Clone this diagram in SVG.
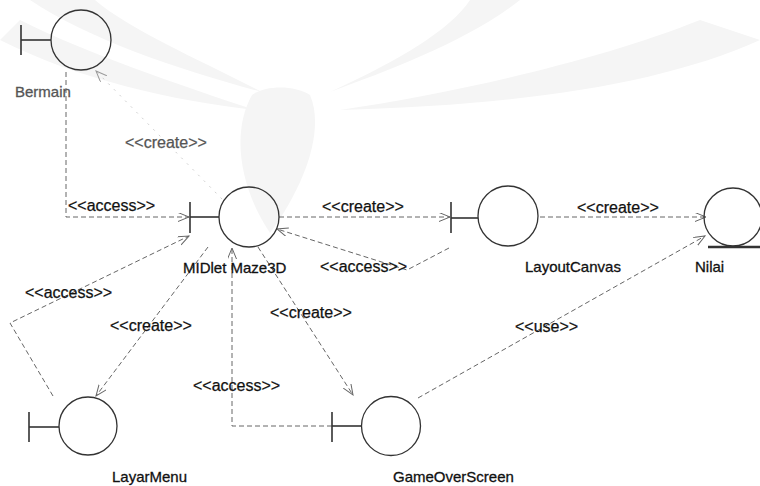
<svg xmlns="http://www.w3.org/2000/svg" width="760" height="486" viewBox="0 0 760 486">
  <style>
    .obj { fill: none; stroke: #333; stroke-width: 1.3; }
    .bar { fill: none; stroke: #333; stroke-width: 1.6; }
    .ent { fill: none; stroke: #333; stroke-width: 2.6; }
    .dep { fill: none; stroke: #666; stroke-width: 1; stroke-dasharray: 5 3; }
    .faint { stroke: #cfcfcf; stroke-dasharray: 2 6; }
    .name { font-family: "Liberation Sans", Arial, sans-serif; font-size: 15px; fill: #111; stroke: #111; stroke-width: 0.3; }
    .st { font-family: "Liberation Sans", Arial, sans-serif; font-size: 16px; fill: #111; stroke: #111; stroke-width: 0.25; }
    .grey { fill: #555; stroke: #555; }
    .wm { fill: #f5f5f5; stroke: none; }
  </style>
  <defs>
    <marker id="open" markerUnits="userSpaceOnUse" markerWidth="12" markerHeight="10" refX="11" refY="4.5" orient="auto">
      <path d="M0,0 L11,4.5 L0,9" fill="none" stroke="#666" stroke-width="1"/>
    </marker>
    <marker id="openFaint" markerUnits="userSpaceOnUse" markerWidth="12" markerHeight="10" refX="11" refY="4.5" orient="auto">
      <path d="M0,0 L11,4.5 L0,9" fill="none" stroke="#999" stroke-width="1"/>
    </marker>
  </defs>

  <rect width="760" height="486" fill="#ffffff"/>

  <!-- background emblem -->
  <g id="emblem">
    <path class="wm" d="M30,0 C90,40 180,70 262,92 C200,60 130,30 95,0 Z"/>
    <path class="wm" d="M0,40 C80,80 170,100 255,110 C180,85 90,55 20,20 Z"/>
    <path class="wm" d="M520,0 C470,40 390,70 330,92 C400,60 450,30 470,0 Z"/>
    <path class="wm" d="M760,40 C660,85 520,105 340,110 C460,92 600,60 700,20 Z"/>
    <path class="wm" d="M252,95 C232,130 238,185 270,233 C305,185 325,130 310,95 C295,85 265,85 252,95 Z"/>
  </g>

  <!-- connectors -->
  <g id="connectors">
    <polyline class="dep" points="66,72 66,217 189,217" marker-end="url(#open)"/>
    <line class="dep faint" x1="222" y1="199" x2="96" y2="71" marker-end="url(#openFaint)"/>
    <line class="dep" x1="279" y1="217" x2="450" y2="217" marker-end="url(#open)"/>
    <polyline class="dep" points="449,248 407,270 277,229" marker-end="url(#open)"/>
    <line class="dep" x1="540" y1="217" x2="706" y2="217" marker-end="url(#open)"/>
    <line class="dep" x1="418" y1="398" x2="705" y2="236" marker-end="url(#open)"/>
    <polyline class="dep" points="53,396 10,323 189,236" marker-end="url(#open)"/>
    <line class="dep" x1="208" y1="247" x2="96" y2="396" marker-end="url(#open)"/>
    <line class="dep" x1="258" y1="247" x2="353" y2="395" marker-end="url(#open)"/>
    <polyline class="dep" points="332,426 232,426 232,248" marker-end="url(#open)"/>

    <text class="st grey" x="125" y="148">&lt;&lt;create&gt;&gt;</text>
    <text class="st" x="68" y="211">&lt;&lt;access&gt;&gt;</text>
    <text class="st" x="322" y="212">&lt;&lt;create&gt;&gt;</text>
    <text class="st" x="320" y="272">&lt;&lt;access&gt;&gt;</text>
    <text class="st" x="577" y="213">&lt;&lt;create&gt;&gt;</text>
    <text class="st" x="25" y="298">&lt;&lt;access&gt;&gt;</text>
    <text class="st" x="110" y="331">&lt;&lt;create&gt;&gt;</text>
    <text class="st" x="270" y="318">&lt;&lt;create&gt;&gt;</text>
    <text class="st" x="515" y="332">&lt;&lt;use&gt;&gt;</text>
    <text class="st" x="193" y="391">&lt;&lt;access&gt;&gt;</text>
  </g>

  <!-- boundary objects -->
  <g id="bermain">
    <line class="bar" x1="21" y1="25" x2="21" y2="55"/>
    <line class="bar" x1="21" y1="40" x2="51" y2="40"/>
    <circle class="obj" cx="81" cy="40" r="30"/>
    <text class="name grey" x="15" y="97">Bermain</text>
  </g>

  <g id="midlet">
    <line class="bar" x1="190" y1="202" x2="190" y2="233"/>
    <line class="bar" x1="190" y1="217" x2="219" y2="217"/>
    <circle class="obj" cx="249" cy="217" r="30"/>
    <text class="name" x="183" y="273">MIDlet Maze3D</text>
  </g>

  <g id="layoutcanvas">
    <line class="bar" x1="451" y1="202" x2="451" y2="233"/>
    <line class="bar" x1="451" y1="218" x2="478" y2="218"/>
    <circle class="obj" cx="508" cy="216" r="30"/>
    <text class="name" x="525" y="272">LayoutCanvas</text>
  </g>

  <!-- entity object -->
  <g id="nilai">
    <circle class="obj" cx="733" cy="217" r="29"/>
    <line class="ent" x1="708" y1="247" x2="760" y2="247"/>
    <text class="name" x="695" y="272">Nilai</text>
  </g>

  <g id="layarmenu">
    <line class="bar" x1="29" y1="412" x2="29" y2="442"/>
    <line class="bar" x1="29" y1="427" x2="59" y2="427"/>
    <circle class="obj" cx="88" cy="426" r="29"/>
    <text class="name" x="112" y="482">LayarMenu</text>
  </g>

  <g id="gameoverscreen">
    <line class="bar" x1="332" y1="412" x2="332" y2="442"/>
    <line class="bar" x1="332" y1="426" x2="362" y2="426"/>
    <circle class="obj" cx="391" cy="426" r="29.5"/>
    <text class="name" x="393" y="482">GameOverScreen</text>
  </g>
</svg>
